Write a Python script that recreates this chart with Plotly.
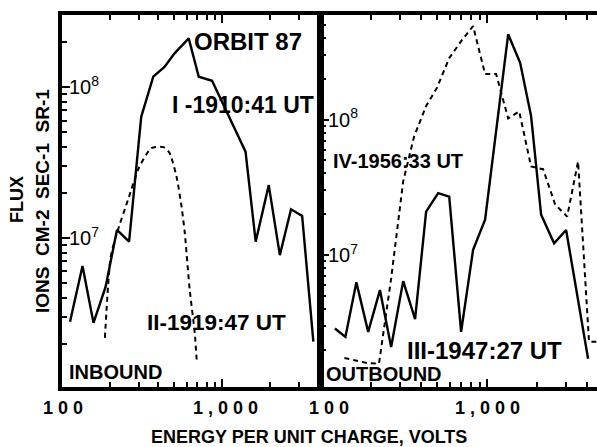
import math
import plotly.graph_objects as go

# ---- data ----
# Panel 1 (inbound): I - solid, II - dashed
energy_I = [112, 134, 157, 187, 220, 262, 312, 371, 436, 504, 618, 714, 865,
            1400, 1620, 1955, 2294, 2694, 3162, 3715]
flux_I = [2.79e6, 6.53e6, 2.74e6, 4.76e6, 1.13e7, 9.45e6, 6.35e7, 1.17e8, 1.36e8,
          1.67e8, 2.10e8, 1.17e8, 1.10e8, 3.73e7, 9.45e6, 2.24e7, 7.7e6, 1.55e7,
          1.40e7, 2.06e6]

energy_II = [185, 201, 220, 258, 303, 361, 430, 469, 519, 558, 584, 627, 674, 695]
flux_II = [2.18e6, 7.48e6, 1.08e7, 1.79e7, 2.95e7, 3.94e7, 4.0e7, 3.66e7, 2.54e7,
           1.60e7, 1.08e7, 4.53e6, 2.35e6, 1.49e6]

# Panel 2 (outbound): III - solid, IV - dashed
energy_III = [121, 140, 163, 192, 226, 264, 312, 368, 429, 507, 591, 697, 823, 972,
              1339, 1581, 1841, 2115, 2533, 2992, 4057]
flux_III = [2.86e6, 2.48e6, 6.27e6, 2.70e6, 5.5e6, 2.09e6, 6.4e6, 3.36e6, 2.09e7,
            2.86e7, 2.70e7, 2.70e6, 1.09e7, 1.82e7, 4.27e8, 2.63e8, 1.06e8, 1.98e7,
            1.22e7, 1.53e7, 1.71e6]

energy_IV = [138, 163, 189, 223, 264, 312, 363, 429, 500, 591, 697, 823, 972, 1133,
             1339, 1560, 1841, 2174, 2570, 3034, 3532, 4111, 5000]
flux_IV = [1.73e6, 1.65e6, 1.59e6, 1.57e6, 6.7e6, 3.49e7, 7.5e7, 1.26e8, 1.73e8,
           2.85e8, 3.8e8, 4.91e8, 2.17e8, 2.17e8, 1.02e8, 1.15e8, 4.5e7, 4.3e7,
           2.36e7, 1.92e7, 4.9e7, 2.28e6, 2.28e6]

x_tickvals = [100, 1000]
x_ticktext = ["1 0 0", "1 , 0 0 0"]
y_tickvals = [1e7, 1e8]
y_ticktext = ["10<sup>7</sup>", "10<sup>8</sup>"]

labels_left = ["ORBIT 87", "I -1910:41 UT", "II-1919:47 UT", "INBOUND"]
labels_right = ["IV-1956:33 UT", "III-1947:27 UT", "OUTBOUND"]
x_title = "ENERGY PER UNIT CHARGE, VOLTS"
y_title_1 = "FLUX"
y_title_2 = "IONS  CM-2  SEC-1  SR-1"

FONT = "Liberation Sans"
W, H = 597, 447
ML, MR, MT, MB = 62, 0, 15, 60
PW, PH = W - ML - MR, H - MT - MB


def px(xp):
    return (xp - ML) / PW


def py(yp):
    return (H - MB - yp) / PH


def minor_vals(lo, hi):
    return [m * 10 ** d for d in range(lo, hi) for m in range(2, 10)]


solid = dict(color="black", width=2.4)
dashed = dict(color="black", width=2, dash="5px,4px")

fig = go.Figure()
fig.add_trace(go.Scatter(x=energy_I, y=flux_I, mode="lines", line=solid,
                         xaxis="x", yaxis="y"))
fig.add_trace(go.Scatter(x=energy_II, y=flux_II, mode="lines",
                         line=dict(dashed, shape="spline", smoothing=0.6),
                         xaxis="x", yaxis="y"))
fig.add_trace(go.Scatter(x=energy_III, y=flux_III, mode="lines", line=solid,
                         xaxis="x2", yaxis="y2"))
fig.add_trace(go.Scatter(x=energy_IV, y=flux_IV, mode="lines", line=dashed,
                         xaxis="x2", yaxis="y2"))

common_x = dict(type="log", tickmode="array", tickvals=x_tickvals, showticklabels=False,
                ticks="inside", ticklen=8, tickwidth=2, tickcolor="black",
                showline=True, linewidth=4, linecolor="black", mirror="ticks",
                showgrid=False, zeroline=False,
                minor=dict(tickmode="array", tickvals=minor_vals(2, 4), ticks="inside",
                           ticklen=5, tickwidth=1.5, tickcolor="black", showgrid=False))
common_y = dict(type="log", tickmode="array", tickvals=y_tickvals, ticktext=y_ticktext,
                ticks="inside", ticklen=8, tickwidth=2, tickcolor="black",
                ticklabelposition="inside",
                showline=True, linewidth=4, linecolor="black",
                showgrid=False, zeroline=False,
                tickfont=dict(family=FONT, size=20, color="black"),
                minor=dict(tickmode="array", tickvals=minor_vals(6, 9), ticks="inside",
                           ticklen=5, tickwidth=1.5, tickcolor="black", showgrid=False))

fig.update_layout(
    width=W, height=H, margin=dict(l=ML, r=MR, t=MT, b=MB),
    paper_bgcolor="white", plot_bgcolor="white", showlegend=False,
    xaxis=dict(common_x, domain=[0, px(320)], range=[1.999, 3.6115], anchor="y"),
    yaxis=dict(common_y, domain=[0, 1], range=[6.013, 8.477], anchor="x", mirror=True),
    xaxis2=dict(common_x, domain=[px(321), 1], range=[1.999, 3.662], anchor="y2"),
    yaxis2=dict(common_y, domain=[0, 1], range=[6.024, 8.773], anchor="x2", mirror=False),
)

ann = []


def add(text, x, y, size, bold=True, xanchor="left", angle=0):
    t = f"<b>{text}</b>" if bold else text
    ann.append(dict(text=t, x=x, y=y, xref="paper", yref="paper", xanchor=xanchor,
                    yanchor="middle", showarrow=False, textangle=angle,
                    font=dict(family=FONT, size=size, color="black")))


add(labels_left[0], px(192), py(41.5), 24)
add(labels_left[1], px(170), py(105), 23)
add(labels_left[2], px(145), py(322), 22.5)
add(labels_left[3], px(67), py(371.5), 20)
add(labels_right[0], px(331), py(161), 20)
add(labels_right[1], px(405), py(350), 24)
add(labels_right[2], px(324), py(373.5), 20)
add(x_title, px(309), py(437), 18, xanchor="center")
add(y_title_1, px(17), py(200), 18, xanchor="center", angle=-90)
add(y_title_2, px(42), py(201), 19, xanchor="center", angle=-90)

# x tick labels, placed on each panel's own x axis
label_shift = {("x", 100): 1, ("x", 1000): 3, ("x2", 100): 8, ("x2", 1000): 0}
for xref in ("x", "x2"):
    for val, txt in zip(x_tickvals, x_ticktext):
        ann.append(dict(text=f"<b>{txt}</b>", x=math.log10(val), xref=xref,
                        y=py(408), yref="paper", xanchor="center", yanchor="middle",
                        xshift=label_shift[(xref, val)], showarrow=False,
                        font=dict(family=FONT, size=18, color="black")))

fig.update_layout(annotations=ann)

fig.write_html("out.html", config={"displayModeBar": False},
               post_script="document.body.style.margin='0';"
                           "document.body.style.overflow='hidden';")
